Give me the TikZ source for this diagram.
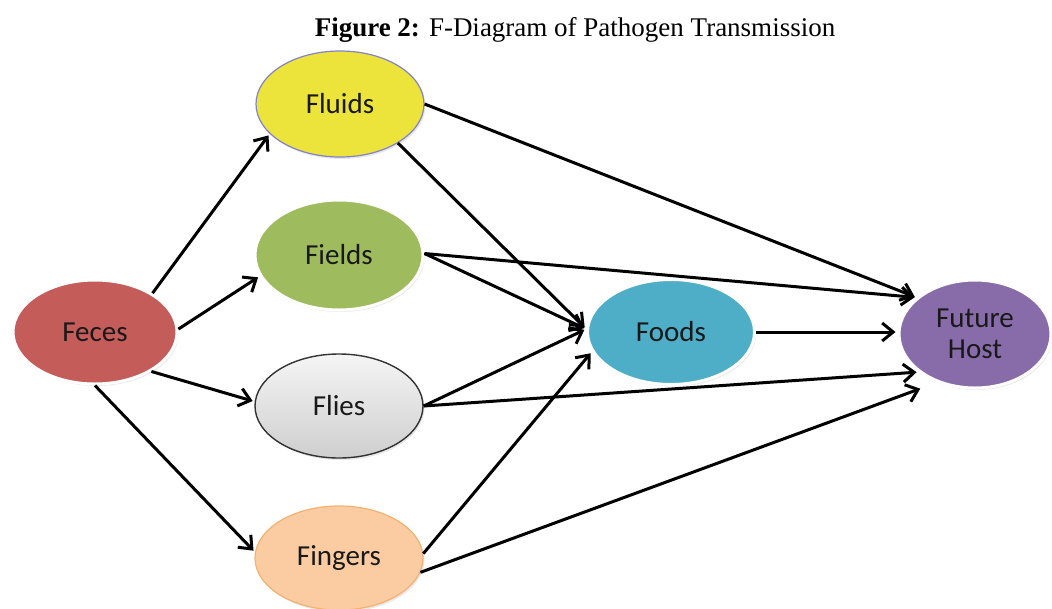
\documentclass[tikz,border=0pt]{standalone}
\usepackage{fontspec}
\setmainfont{Liberation Serif}
\newfontfamily\lab{Carlito}
\usetikzlibrary{shapes.geometric,arrows.meta,shadows}
\definecolor{fecesc}{RGB}{196,92,90}
\definecolor{fluidsc}{RGB}{236,228,58}
\definecolor{fieldsc}{RGB}{158,188,94}
\definecolor{fingersc}{RGB}{251,204,162}
\definecolor{foodsc}{RGB}{78,174,200}
\definecolor{hostc}{RGB}{136,108,170}
\begin{document}
\begin{tikzpicture}[x=1pt,y=-1pt,
  blob/.style={ellipse, draw=white, line width=3pt, inner sep=0pt,
    minimum width=168pt, minimum height=106pt,
    font=\lab\fontsize{29}{31}\selectfont, text=black!90, align=center,
    drop shadow={opacity=0.18,shadow xshift=1.5pt,shadow yshift=-2pt}},
  conn/.style={line width=3pt, -{Straight Barb[length=11pt,width=18pt]}, shorten >=2pt}]
\useasboundingbox[fill=white] (0,0) rectangle (1052,608);

\node (title) at (575,30) {\fontsize{27}{30}\selectfont\textbf{Figure 2:} F-Diagram of Pathogen Transmission};

\node[blob, fill=fecesc, minimum width=164pt, minimum height=104pt] (feces) at (95,332) {Feces};
\node[blob, fill=fluidsc, draw=gray!60!blue!70, line width=1.2pt] (fluids) at (340,104) {Fluids};
\node[blob, fill=fieldsc, minimum height=110pt] (fields) at (339,255) {Fields};
\node[blob, top color=gray!8, bottom color=gray!38, draw=black!80, line width=1.4pt, minimum height=104pt] (flies) at (339,406) {Flies};
\node[blob, fill=fingersc, draw=orange!70!brown!60, line width=1.2pt, minimum height=104pt] (fingers) at (339,558) {Fingers};
\node[blob, fill=foodsc, minimum width=167pt, minimum height=105pt] (foods) at (671,332) {Foods};
\node[blob, fill=hostc, minimum width=152pt, minimum height=108pt] (host) at (975,334) {Future\\Host};

\draw[conn] (feces.34) -- (fluids.203);
\draw[conn] (feces.2) -- (fields.195);
\draw[conn] (feces.325) -- (flies.177);
\draw[conn] (feces.270) -- (fingers.176);

\draw[conn] (fluids.326) -- (foods.178);
\draw[conn] (fluids.0) -- (host.148);
\draw[conn] (fields.1) -- (foods.178);
\draw[conn] (fields.1) -- (host.148);
\draw[conn] (flies.0) -- (foods.178);
\draw[conn] (flies.0) -- (host.214);
\draw[conn] (fingers.3) -- (foods.194);
\draw[conn, shorten >=18pt] (fingers.-10) -- (host.232);
\draw[conn] (foods.east) -- (foods.east -| host.west);
\end{tikzpicture}
\end{document}
